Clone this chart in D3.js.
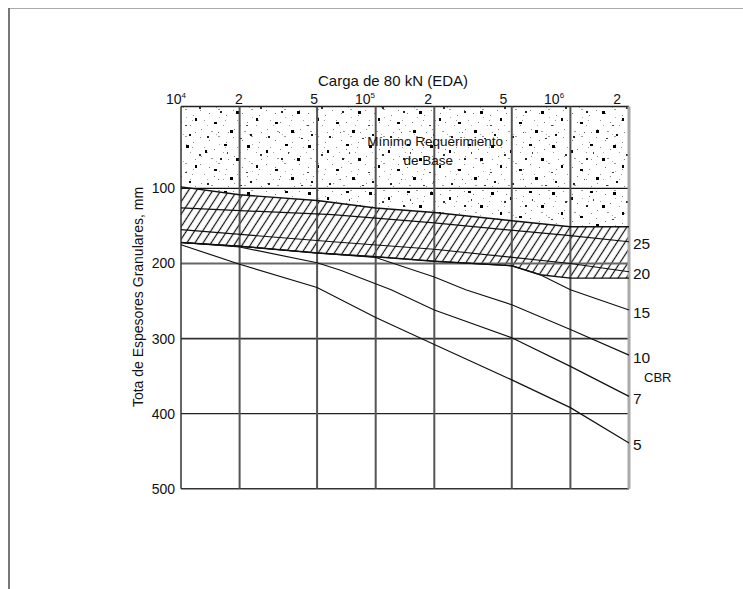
<!DOCTYPE html>
<html><head><meta charset="utf-8">
<script src="https://cdn.jsdelivr.net/npm/d3@7"></script>
<style>
body{margin:0;background:#fff;}
svg{display:block;font-family:"Liberation Sans",Arial,sans-serif;}
</style>
</head><body>
<svg id="chart" width="743" height="589"></svg>
<script>
// ---------- data ----------
const xTicks = [1e4, 2e4, 5e4, 1e5, 2e5, 5e5, 1e6, 2e6];
const xTickBase = ["10", "2", "5", "10", "2", "5", "10", "2"];
const xTickSup = ["4", "", "", "5", "", "", "6", ""];
const yTicks = [100, 200, 300, 400, 500];
const yDomain = [-9, 500];
const xDomain = [1e4, 2e6];

// minimum base requirement (upper edge of hatched band)
const minBaseTop = [[1e4,98],[2e4,108.5],[5e4,116],[1e5,126],[2e5,132],[5e5,143],[1e6,151],[2e6,151]];
// lower edge of hatched band
const hatchBottom = [[1e4,172],[2e4,177],[5e4,186],[1e5,191],[2e5,197],[5e5,203],[7e5,215],[1e6,219.5],[2e6,219.5]];

// CBR curves (load, mm)
const cbrNames = ["25", "20", "15", "10", "7", "5"];
const cbr25 = [[1e4,126],[6e4,135],[2e5,146],[1e6,163],[2e6,171]];
const cbr20 = [[1e4,155],[6e4,171],[2e5,181],[1e6,200],[2e6,211]];
const cbr15 = [[1e4,172],[2e4,177],[5e4,186],[1e5,191],[2e5,197],[5e5,203],[7e5,215],[1e6,235],[2e6,262]];
const cbr10 = [[1e4,172],[2e4,177],[5e4,186],[1e5,192],[2e5,218],[2.9e5,235],[5e5,255],[1e6,288],[2e6,322]];
const cbr7  = [[1e4,172],[2e4,178],[5e4,199],[6.6e4,209],[1.2e5,235],[2e5,262],[5e5,299],[1e6,337],[2e6,377]];
const cbr5  = [[1e4,175],[2e4,201],[5e4,232],[1e5,272],[2e5,308],[5e5,355],[1e6,392],[2e6,439]];
const cbrSeries = [cbr25, cbr20, cbr15, cbr10, cbr7, cbr5];

// speckle texture for the "minimum base" zone: [x, y, w, h, shade]
const bigSpecks = [
  [3,4,3,3,"#000"],[22,9,2,3,"#000"],[41,3,3,2,"#000"],[53,17,3,3,"#000"],[12,24,2,3,"#000"],
  [31,28,3,2,"#000"],[47,36,3,3,"#000"],[6,40,2,2,"#111"],[24,42,2,2,"#222"],[37,17,2,2,"#222"],
  [57,44,2,1,"#333"],[16,13,2,2,"#333"],[44,11,1,2,"#444"],[2,31,2,1,"#444"],[35,38,1,1,"#555"]
];
const smallSpecks = [
  [2,2,1,1,"#888"],[11,5,1,1,"#777"],[20,1,2,1,"#999"],[28,7,1,1,"#888"],[6,12,1,1,"#999"],
  [16,14,1,1,"#777"],[25,17,1,1,"#999"],[3,21,1,1,"#888"],[13,23,2,1,"#999"],[30,24,1,1,"#888"],
  [21,9,1,1,"#aaa"],[9,17,1,1,"#aaa"],[27,12,1,1,"#999"],[18,26,1,1,"#aaa"]
];

// ---------- scales ----------
const x = d3.scaleLog().domain(xDomain).range([181, 629]);
const xLab = d3.scaleLog().domain(xDomain).range([186, 621]);
const y = d3.scaleLinear().domain(yDomain).range([106.6, 488.7]);

const svg = d3.select("#chart");

// outer page frame
svg.append("line").attr("x1", 9).attr("x2", 743).attr("y1", 8.5).attr("y2", 8.5)
  .attr("stroke", "#aaa").attr("stroke-width", 1);
svg.append("line").attr("x1", 9).attr("x2", 9).attr("y1", 8).attr("y2", 589)
  .attr("stroke", "#777").attr("stroke-width", 2);

// patterns
const defs = svg.append("defs");
function speckPattern(id, w, h, specks) {
  const p = defs.append("pattern").attr("id", id).attr("patternUnits", "userSpaceOnUse")
    .attr("width", w).attr("height", h);
  p.selectAll("rect").data(specks).join("rect")
    .attr("x", d => d[0]).attr("y", d => d[1]).attr("width", d => d[2]).attr("height", d => d[3])
    .attr("fill", d => d[4]);
}
speckPattern("speckBig", 61, 47, bigSpecks);
speckPattern("speckSmall", 33, 27, smallSpecks);

const hp = defs.append("pattern").attr("id", "hatch").attr("patternUnits", "userSpaceOnUse")
  .attr("width", 6.8).attr("height", 10).attr("patternTransform", "rotate(33)");
hp.append("rect").attr("width", 6.8).attr("height", 10).attr("fill", "#fff");
hp.append("line").attr("x1", 3.4).attr("x2", 3.4).attr("y1", 0).attr("y2", 10)
  .attr("stroke", "#111").attr("stroke-width", 1.2);

const line = d3.line().x(d => x(d[0])).y(d => y(d[1]));

// speckled minimum-base zone
const speckZone = [[xDomain[0], yDomain[0]], [xDomain[1], yDomain[0]]].concat(minBaseTop.slice().reverse());
svg.append("path").attr("d", line(speckZone) + "Z").attr("fill", "#fff");
svg.append("path").attr("d", line(speckZone) + "Z").attr("fill", "url(#speckSmall)");
svg.append("path").attr("d", line(speckZone) + "Z").attr("fill", "url(#speckBig)");

// hatched band
const hatchZone = minBaseTop.concat(hatchBottom.slice().reverse());
svg.append("path").attr("d", line(hatchZone) + "Z").attr("fill", "url(#hatch)");

// grid: horizontal
const hStyle = {100: ["#111", 1.3], 200: ["#666", 2], 300: ["#333", 1.8], 400: ["#222", 1.3], 500: ["#333", 1.5]};
svg.selectAll("line.h").data(yTicks).join("line").attr("class", "h")
  .attr("x1", x(xDomain[0])).attr("x2", x(xDomain[1]))
  .attr("y1", d => y(d)).attr("y2", d => y(d))
  .attr("stroke", d => hStyle[d][0]).attr("stroke-width", d => hStyle[d][1]);
// top border
svg.append("line").attr("x1", x(xDomain[0])).attr("x2", x(xDomain[1]))
  .attr("y1", y(yDomain[0])).attr("y2", y(yDomain[0])).attr("stroke", "#222").attr("stroke-width", 1.5);

// grid: vertical
svg.selectAll("line.v").data(xTicks).join("line").attr("class", "v")
  .attr("x1", d => x(d)).attr("x2", d => x(d))
  .attr("y1", y(yDomain[0])).attr("y2", y(yDomain[1]))
  .attr("stroke", (d, i) => i === 0 ? "#333" : (i === xTicks.length - 1 ? "#aaa" : "#555"))
  .attr("stroke-width", (d, i) => i === 0 ? 1.5 : (i === xTicks.length - 1 ? 3 : 2));

// boundaries of the hatched band
svg.append("path").attr("d", line(minBaseTop)).attr("fill", "none")
  .attr("stroke", "#111").attr("stroke-width", 1.4);
svg.append("path").attr("d", line(hatchBottom)).attr("fill", "none")
  .attr("stroke", "#111").attr("stroke-width", 1.4);

// CBR curves
svg.selectAll("path.cbr").data(cbrSeries).join("path").attr("class", "cbr")
  .attr("d", line).attr("fill", "none").attr("stroke", "#111").attr("stroke-width", 1.2);

// CBR labels
svg.selectAll("text.cbrl").data(cbrSeries).join("text").attr("class", "cbrl")
  .attr("x", x(xDomain[1]) + 4)
  .attr("y", d => y(d[d.length - 1][1]) + 2)
  .attr("dominant-baseline", "central")
  .attr("font-size", 15.5).attr("fill", "#111")
  .text((d, i) => cbrNames[i]);
svg.append("text")
  .attr("x", x(xDomain[1]) + 15)
  .attr("y", (y(cbr10[cbr10.length - 1][1]) + y(cbr7[cbr7.length - 1][1])) / 2 + 2)
  .attr("dominant-baseline", "central").attr("font-size", 13).attr("fill", "#111").text("CBR");

// zone text
const zt = svg.append("text").attr("text-anchor", "middle").attr("font-size", 13.5).attr("fill", "#111");
zt.append("tspan").attr("x", x(2.02e5)).attr("y", y(44)).text("Mínimo Requerimiento");
zt.append("tspan").attr("x", x(1.86e5)).attr("y", y(69)).text("de Base");

// top axis tick labels
const tl = svg.selectAll("text.xt").data(xTicks).join("text").attr("class", "xt")
  .attr("x", d => xLab(d)).attr("y", 104).attr("text-anchor", "end")
  .attr("font-size", 14).attr("fill", "#111");
tl.append("tspan").text((d, i) => xTickBase[i]);
tl.append("tspan").attr("font-size", 8).attr("dy", -6).text((d, i) => xTickSup[i]);

// y tick labels
svg.selectAll("text.yt").data(yTicks).join("text").attr("class", "yt")
  .attr("x", 175).attr("y", d => y(d)).attr("text-anchor", "end")
  .attr("dominant-baseline", "central").attr("font-size", 14).attr("fill", "#111")
  .text(d => d);

// titles
svg.append("text").attr("x", 393).attr("y", 86).attr("text-anchor", "middle")
  .attr("font-size", 15).attr("fill", "#111").text("Carga de 80 kN (EDA)");
svg.append("text").attr("transform", "translate(143,297) rotate(-90)")
  .attr("text-anchor", "middle").attr("font-size", 14).attr("fill", "#111")
  .text("Tota de Espesores Granulares, mm");
</script>
</body></html>
